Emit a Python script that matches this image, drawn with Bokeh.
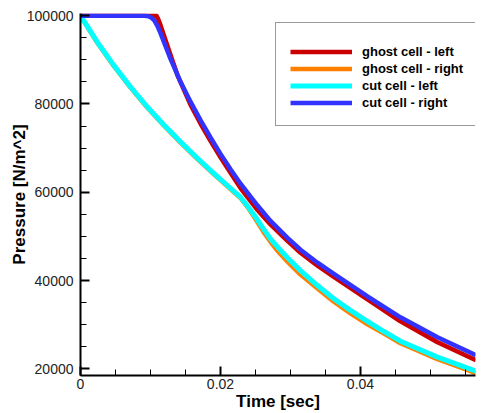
from bokeh.plotting import figure
from bokeh.models import Legend, LegendItem, Range1d, SingleIntervalTicker, NumeralTickFormatter
from bokeh.embed import file_html
from bokeh.resources import INLINE

# ---- data (time in s, pressure in N/m^2) ----
t_ghost_left = [0.0, 0.01086, 0.01114, 0.01143, 0.01186, 0.01286, 0.01386, 0.01571, 0.01714, 0.01857,
                0.02, 0.02143, 0.02286, 0.02529, 0.02714, 0.02957, 0.03143, 0.03386, 0.03614, 0.041,
                0.04571, 0.051, 0.0565]
p_ghost_left = [100000, 100000, 99099, 97861, 95834, 91105, 86488, 79845, 75566, 71625,
                67909, 64418, 60930, 55970, 52708, 48992, 46289, 43362, 40885, 35705,
                30751, 26022, 21950]

t_ghost_right = [0.0, 0.00239, 0.00471, 0.00714, 0.00953, 0.01186, 0.01429, 0.01671, 0.019, 0.02143,
                 0.02286, 0.02386, 0.025, 0.02614, 0.02714, 0.02814, 0.02957, 0.03143, 0.03386, 0.03614,
                 0.03857, 0.041, 0.04329, 0.04571, 0.051, 0.0565]
p_ghost_right = [100000, 93880, 88680, 83700, 79200, 75170, 71250, 67530, 64180, 60730,
                 58700, 56649, 53947, 51019, 48767, 46740, 44263, 41335, 38182, 35255,
                 32552, 30075, 28048, 25796, 22193, 19020]

t_cut_left = [0.0, 0.00239, 0.00471, 0.00714, 0.00953, 0.01186, 0.01429, 0.01671, 0.019, 0.02143,
              0.02286, 0.02386, 0.025, 0.02614, 0.02714, 0.02814, 0.02957, 0.03143, 0.03386, 0.03614,
              0.03857, 0.041, 0.04329, 0.04571, 0.051, 0.0565]
p_cut_left = [100000, 94055, 88853, 83876, 79372, 75341, 71422, 67706, 64351, 60906,
              58879, 56874, 54397, 51695, 49443, 47641, 45164, 42236, 38858, 35931,
              33229, 30751, 28499, 26247, 22644, 19470]

t_cut_right = [0.0, 0.00914, 0.00971, 0.01014, 0.01057, 0.011, 0.01143, 0.01286, 0.01429, 0.01571,
               0.01714, 0.01857, 0.02, 0.02143, 0.02286, 0.02529, 0.02714, 0.02957, 0.03143, 0.03386,
               0.03614, 0.041, 0.04571, 0.051, 0.0565]
p_cut_right = [100000, 100000, 99887, 99550, 98874, 97635, 96059, 90204, 85024, 80520,
               76354, 72413, 68697, 65207, 61941, 56987, 53496, 49668, 46965, 44038,
               41560, 36381, 31652, 27148, 23070]

series_labels = ["ghost cell - left", "ghost cell - right", "cut cell - left", "cut cell - right"]
series_colors = ["#cc0000", "#ff8000", "#00ffff", "#3333ff"]

x_label = "Time [sec]"
y_label = "Pressure [N/m^2]"

# ---- figure ----
p = figure(width=488, height=413, output_backend="svg", toolbar_location=None,
           x_range=Range1d(0, 0.05643), y_range=Range1d(18478, 100500),
           min_border_left=80, min_border_right=13, min_border_top=13, min_border_bottom=36,
           background_fill_color="white", border_fill_color="white")
p.outline_line_color = None
p.grid.visible = False

data = [(t_ghost_left, p_ghost_left), (t_ghost_right, p_ghost_right),
        (t_cut_left, p_cut_left), (t_cut_right, p_cut_right)]
widths = [4.5, 4.5, 5, 4.5]
renderers = []
for (tx, py), col, w in zip(data, series_colors, widths):
    r = p.line(tx, py, line_color=col, line_width=w, line_join="round")
    renderers.append(r)

# axes
for ax in (p.xaxis[0], p.yaxis[0]):
    ax.axis_line_color = "black"
    ax.axis_line_width = 2
    ax.major_tick_line_color = "black"
    ax.major_tick_line_width = 2
    ax.minor_tick_line_color = "black"
    ax.minor_tick_line_width = 1
    ax.major_tick_in = 9
    ax.major_tick_out = 0
    ax.minor_tick_in = 6
    ax.minor_tick_out = 0
    ax.major_label_text_font = "Liberation Sans"
    ax.major_label_text_font_size = "14px"
    ax.major_label_text_color = "#222222"
    ax.axis_label_text_font = "Liberation Sans"
    ax.axis_label_text_font_size = "17px"
    ax.axis_label_text_font_style = "bold"
    ax.axis_label_text_color = "black"

p.xaxis.ticker = SingleIntervalTicker(interval=0.02, num_minor_ticks=4)
p.yaxis.ticker = SingleIntervalTicker(interval=20000, num_minor_ticks=4)
p.xaxis.formatter = NumeralTickFormatter(format="0.[00]")
p.yaxis.formatter = NumeralTickFormatter(format="0")
p.xaxis.axis_label = x_label
p.yaxis.axis_label = y_label
p.xaxis.major_label_standoff = 3
p.xaxis.axis_label_standoff = 0
p.yaxis.major_label_standoff = 7
p.yaxis.axis_label_standoff = -5

legend = Legend(
    items=[LegendItem(label=l, renderers=[r]) for l, r in zip(series_labels, renderers)],
    location=(195, 249), title=" ", title_text_font_size="5px", title_standoff=0,
    padding=14, spacing=0, glyph_width=62, glyph_height=17, label_height=17,
    label_standoff=10, label_text_font="Liberation Sans", label_text_font_size="13px",
    label_text_font_style="bold", label_text_color="black",
    border_line_color="#333333", border_line_width=1, background_fill_color="white",
    background_fill_alpha=1.0, margin=0)
p.add_layout(legend)

open("out.html", "w").write(file_html(p, INLINE))
